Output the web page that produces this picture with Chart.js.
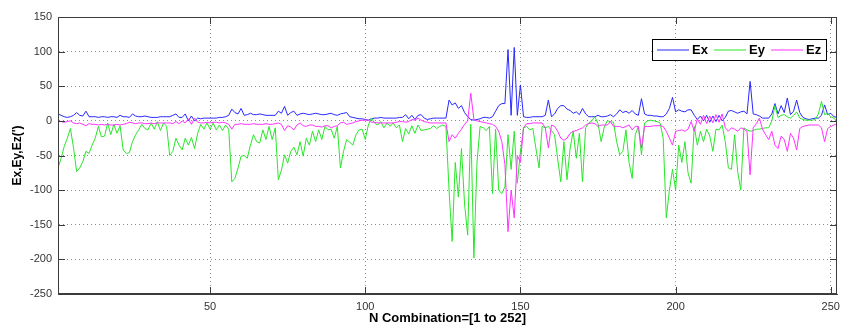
<!DOCTYPE html>
<html lang="en">
<head>
<meta charset="UTF-8">
<title>Ex, Ey, Ez per combination</title>
<script src="https://cdn.jsdelivr.net/npm/chart.js"></script>
<style>
  body { margin: 0; background: #fff; }
  .chart-box { width: 850px; height: 332px; }
</style>
</head>
<body>
<div class="chart-box"><canvas id="errChart" width="850" height="332"></canvas></div>
<script>
// values, one per combination (1..252)
var ex = [
  10, 8, 6, 5, 6, 8, 12, 8, 7, 14,
  6, 6, 6, 5, 6, 6, 5, 6, 6, 5,
  8, 6, 6, 5, 10, 7, 6, 6, 7, 6,
  5, 5, 5, 6, 6, 6, 6, 8, 10, 5,
  5, 10, 0, 7, 0, 4, 3, 4, 4, 4,
  4, 4, 5, 5, 6, 8, 17, 12, 10, 18,
  8, 9, 11, 9, 9, 10, 9, 8, 8, 8,
  8, 14, 11, 21, 8, 12, 14, 8, 10, 11,
  10, 9, 10, 11, 10, 9, 9, 10, 11, 9,
  8, 10, 11, 12, 6, 5, 4, 3, 3, 2,
  1, 3, 4, 4, 5, 4, 4, 4, 4, 4,
  5, 5, 9, 3, 8, 2, 8, 9, 4, 2,
  3, 4, 4, 4, 4, 4, 30, 23, 26, 18,
  22, 12, 6, 2, 1, 2, 3, 5, 5, 4,
  6, 14, 22, 25, 25, 103, 8, 106, 8, 52,
  6, 5, 5, 6, 6, 6, 6, 8, 30, 6,
  10, 18, 22, 22, 17, 15, 11, 13, 9, 18,
  10, 6, 6, 6, 8, 6, 6, 7, 9, 6,
  10, 16, 12, 14, 11, 15, 10, 8, 32, 10,
  8, 8, 7, 7, 6, 6, 10, 18, 34, 13,
  16, 14, 13, 16, 16, 8, 2, 7, 0, 8,
  -2, 7, -1, 8, 0, 5, 14, 15, 13, 11,
  13, 14, 10, 57, 10, 9, 7, 4, 4, 4,
  10, 25, 10, 22, 12, 33, 9, 14, 30, 12,
  5, 3, 2, 3, 4, 4, 8, 23, 9, 11,
  6, 5
];

var ey = [
  -68, -54, -37, -25, -11, -39, -73, -68, -59, -44,
  -47, -35, -25, -8, -23, -22, -3, -20, -5, -18,
  -7, -42, -47, -46, -30, -20, -13, -5, -11, -13,
  -3, -12, -1, -14, -3, -8, -50, -44, -25, -35,
  -42, -25, -35, -24, -40, -18, -5, -12, -3, -12,
  -3, -13, -6, -14, -6, -12, -88, -83, -68, -51,
  -50, -54, -35, -20, -30, -32, -13, -27, -8, -27,
  -10, -85, -71, -49, -61, -44, -38, -49, -30, -51,
  -25, -35, -15, -30, -13, -27, -8, -13, -12, -25,
  -8, -68, -44, -27, -31, -35, -20, -13, -12, -27,
  -6, 4, -3, -6, -1, -10, -3, -8, -3, -10,
  -6, -30, -11, -19, -7, -18, -6, -14, -13, -12,
  -11, -7, -11, -8, -6, -8, -100, -174, -60, -110,
  -40, -120, -165, -5, -198, -60, -8, -10, -14, -8,
  -105, -12, -100, -105, -95, -20, -70, -15, -90, -45,
  -10, -8, -13, -11, -40, -68, -8, -10, -8, -14,
  -20, -55, -88, -30, -85, -40, -15, -54, -18, -88,
  -10, -3, 0, 6, -4, -30, -9, 0, -1, -2,
  -30, -49, -44, -13, -60, -83, -20, -8, -49, -3,
  0, 1, 0, -1, -3, -25, -140, -100, -70, -100,
  -35, -60, -30, -75, -90, -8, -35, -15, -30, -12,
  -22, -44, -12, -13, -6, -30, -68, -70, -20, -73,
  -100, -10, -13, -15, -14, -12, -12, -11, -10, -10,
  0, 22, 5, 8, 9, 6, 4, 8, 13, 4,
  2, 1, 1, 1, 2, 10, 28, 9, 11, 6,
  4, -1
];

var ez = [
  0, -1, -2, -1, 0, -3, -4, -3, -5, -7,
  -4, -5, -5, -6, -5, -6, -5, -6, -6, -5,
  -6, -5, -4, -2, -3, -4, -3, -3, -4, -4,
  -3, -4, -3, -3, -3, -3, -3, -4, -1, -4,
  0, -3, 3, -5, 4, -2, -3, -3, -2, -3,
  -2, -2, -3, -2, -3, -5, -12, -5, -5, -4,
  -5, -5, -5, -4, -5, -5, -5, -4, -5, -5,
  -4, -3, -5, -14, -7, -9, -13, -6, -3, -7,
  -8, -6, -6, -8, -8, -9, -7, -7, -10, -8,
  -7, -3, -2, -5, -4, -3, -1, 0, 1, 1,
  1, -2, -2, -3, -3, -3, -3, -3, -3, -2,
  -1, -1, -2, -1, 2, 1, 4, 1, -1, -2,
  -3, -3, -3, -3, -3, -3, -30, -20, -25, -18,
  -12, -5, 0, 40, 2, 0, -1, -2, -3, -4,
  -5, -8, -15, -30, -63, -160, -100, -140, -50, -60,
  -10, -4, -4, -3, -3, -3, -3, -10, -39, -6,
  -8, -15, -25, -28, -25, -18, -15, -14, -12, -10,
  -6, -4, -3, -4, -8, -6, -6, -6, -1, -8,
  -8, -8, -10, -8, -6, -13, -8, -8, -39, -8,
  -8, -8, -7, -7, -7, -8, -15, -25, -35, -15,
  -14, -13, -15, -12, -1, -15, 3, -5, 8, -4,
  7, -3, 9, -2, 10, -10, -15, -10, -12, -15,
  -10, -12, -15, -78, -10, -4, 4, -12, -20, -27,
  -15, -35, -40, -22, -27, -44, -18, -25, -42, -11,
  -8, -7, -6, -6, -6, -6, -10, -30, -11, -8,
  -6, -4
];

var xTicks = [50, 100, 150, 200, 250];
var yTicks = [-250, -200, -150, -100, -50, 0, 50, 100, 150];

var seriesNames = ['Ex', 'Ey', 'Ez'];
var seriesColors = ['#2828ff', '#28e628', '#ff33ff'];

function toPoints(arr) {
    return arr.map(function (v, i) { return { x: i + 1, y: v }; });
}

// MATLAB-like box, inward ticks and legend
var framePlugin = {
    id: 'frame',
    afterDraw: function (chart) {
        var ctx = chart.ctx;
        var a = chart.chartArea;
        var xs = chart.scales.x;
        var ys = chart.scales.y;
        ctx.save();
        ctx.strokeStyle = '#3c3c3c';
        ctx.lineWidth = 1;
        ctx.strokeRect(a.left + 0.5, a.top + 0.5, a.right - a.left - 1, a.bottom - a.top - 1);

        ctx.beginPath();
        xTicks.forEach(function (t) {
            var px = Math.round(xs.getPixelForValue(t)) + 0.5;
            ctx.moveTo(px, a.bottom); ctx.lineTo(px, a.bottom - 7);
            ctx.moveTo(px, a.top); ctx.lineTo(px, a.top + 7);
        });
        yTicks.forEach(function (t) {
            var py = Math.round(ys.getPixelForValue(t)) + 0.5;
            ctx.moveTo(a.left, py); ctx.lineTo(a.left + 7, py);
            ctx.moveTo(a.right, py); ctx.lineTo(a.right - 7, py);
        });
        ctx.stroke();

        // legend box
        var bx = a.right - 185, by = a.top + 22, bw = 174, bh = 21;
        ctx.fillStyle = '#fff';
        ctx.fillRect(bx, by, bw, bh);
        ctx.strokeStyle = '#000';
        ctx.strokeRect(bx + 0.5, by + 0.5, bw, bh);
        ctx.font = 'bold 13px "Liberation Sans", Arial, sans-serif';
        ctx.textBaseline = 'middle';
        for (var i = 0; i < 3; i++) {
            var sx = bx + 5 + i * 57;
            ctx.strokeStyle = seriesColors[i];
            ctx.beginPath();
            ctx.moveTo(sx, by + bh / 2 + 0.5);
            ctx.lineTo(sx + 32, by + bh / 2 + 0.5);
            ctx.stroke();
            ctx.fillStyle = '#000';
            ctx.fillText(seriesNames[i], sx + 35, by + bh / 2 + 1);
        }
        ctx.restore();
    }
};

var ctx = document.getElementById('errChart').getContext('2d');
var myChart = new Chart(ctx, {
    type: 'line',
    data: {
        datasets: [
            { label: 'Ex', data: toPoints(ex), borderColor: seriesColors[0], order: 2 },
            { label: 'Ey', data: toPoints(ey), borderColor: seriesColors[1], order: 1 },
            { label: 'Ez', data: toPoints(ez), borderColor: seriesColors[2], order: 0 }
        ]
    },
    options: {
        responsive: false,
        animation: false,
        devicePixelRatio: 1,
        layout: { padding: { top: 17, right: 13, left: 0, bottom: 0 } },
        elements: {
            line: { borderWidth: 1, tension: 0 },
            point: { radius: 0 }
        },
        plugins: {
            legend: { display: false },
            tooltip: { enabled: false }
        },
        scales: {
            x: {
                type: 'linear',
                min: 1,
                max: 252,
                afterBuildTicks: function (scale) {
                    scale.ticks = xTicks.map(function (v) { return { value: v }; });
                },
                afterFit: function (scale) { scale.height = 38; },
                ticks: {
                    maxRotation: 0,
                    padding: 6,
                    color: '#333',
                    font: { family: '"Liberation Sans", Arial, sans-serif', size: 11 }
                },
                grid: { color: '#8c8c8c', drawTicks: false },
                border: { color: '#3c3c3c', dash: [1, 3] },
                title: {
                    display: true,
                    text: 'N Combination=[1 to 252]',
                    color: '#000',
                    padding: { top: 2, bottom: 6 },
                    font: { family: '"Liberation Sans", Arial, sans-serif', size: 13, weight: 'bold' }
                }
            },
            y: {
                min: -250,
                max: 150,
                afterBuildTicks: function (scale) {
                    scale.ticks = yTicks.map(function (v) { return { value: v }; });
                },
                afterFit: function (scale) { scale.width = 58; },
                ticks: {
                    padding: 6,
                    color: '#333',
                    font: { family: '"Liberation Sans", Arial, sans-serif', size: 11 }
                },
                grid: { color: '#8c8c8c', drawTicks: false },
                border: { color: '#3c3c3c', dash: [1, 3] },
                title: {
                    display: true,
                    text: "Ex,Ey,Ez(')",
                    color: '#000',
                    padding: { top: 10, bottom: 4 },
                    font: { family: '"Liberation Sans", Arial, sans-serif', size: 12, weight: 'bold' }
                }
            }
        }
    },
    plugins: [framePlugin]
});
</script>
</body>
</html>
